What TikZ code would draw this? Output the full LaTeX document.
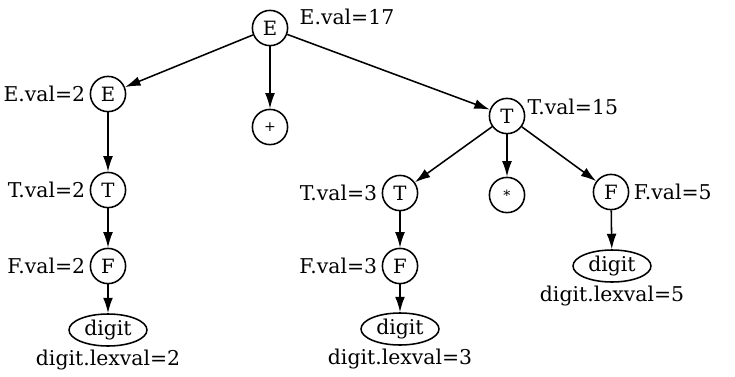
\documentclass[tikz,border=0pt]{standalone}
\usepackage{fontspec}
\setmainfont{DejaVu Serif}
\usetikzlibrary{arrows.meta,shapes,positioning}

\begin{document}
\begin{tikzpicture}[
  nt/.style={draw,circle,line width=1.1pt,minimum size=0.88cm,inner sep=0pt,
             font=\fontsize{14}{16}\selectfont},
  op/.style={nt,font=\fontsize{10}{12}\selectfont},
  tok/.style={draw,ellipse,line width=1.1pt,minimum width=1.95cm,
              minimum height=0.8cm,inner sep=0pt,font=\fontsize{14.5}{16}\selectfont},
  lab/.style={font=\fontsize{14.5}{16}\selectfont,inner sep=1pt},
  arr/.style={-{Latex[length=11pt,width=7pt]},line width=1.1pt}]
  \useasboundingbox (0,0) rectangle (18.375,-9.4);
  % left subtree
  \node[nt] (root) at (6.75,-0.7) {E};
  \node[lab,anchor=west] (rootv) at (7.45,-0.42) {E.val=17};
  \node[nt] (eleft) at (2.7,-2.35) {E};
  \node[lab,left=2pt of eleft] (eleftv) {E.val=2};
  \node[op] (plus) at (6.75,-3.175) {+};
  \node[nt] (tleft) at (2.7,-4.75) {T};
  \node[lab,left=2pt of tleft] (tleftv) {T.val=2};
  \node[nt] (fleft) at (2.7,-6.65) {F};
  \node[lab,left=2pt of fleft] (fleftv) {F.val=2};
  \node[tok] (dleft) at (2.7,-8.25) {digit};
  \node[lab,below=1pt of dleft] (dleftv) {digit.lexval=2};
  % right subtree
  \node[nt] (tright) at (12.675,-2.9) {T};
  \node[lab,anchor=west] (trightv) at (13.15,-2.68) {T.val=15};
  \node[nt] (tmid) at (10.0,-4.825) {T};
  \node[lab,left=2pt of tmid] (tmidv) {T.val=3};
  \node[op] (star) at (12.675,-4.875) {*};
  \node[nt] (fright) at (15.275,-4.8) {F};
  \node[lab,right=2pt of fright] (frightv) {F.val=5};
  \node[nt] (fmid) at (10.0,-6.65) {F};
  \node[lab,left=2pt of fmid] (fmidv) {F.val=3};
  \node[tok] (dmid) at (10.0,-8.225) {digit};
  \node[lab,below=1pt of dmid] (dmidv) {digit.lexval=3};
  \node[tok] (dright) at (15.3,-6.65) {digit};
  \node[lab,below=1pt of dright] (drightv) {digit.lexval=5};
  % edges
  \draw[arr] (root) -- (eleft);
  \draw[arr] (root) -- (plus);
  \draw[arr] (root) -- (tright);
  \draw[arr] (eleft) -- (tleft);
  \draw[arr] (tleft) -- (fleft);
  \draw[arr] (fleft) -- (dleft);
  \draw[arr] (tright) -- (tmid);
  \draw[arr] (tright) -- (star);
  \draw[arr] (tright) -- (fright);
  \draw[arr] (tmid) -- (fmid);
  \draw[arr] (fmid) -- (dmid);
  \draw[arr] (fright) -- (dright);
\end{tikzpicture}
\end{document}
